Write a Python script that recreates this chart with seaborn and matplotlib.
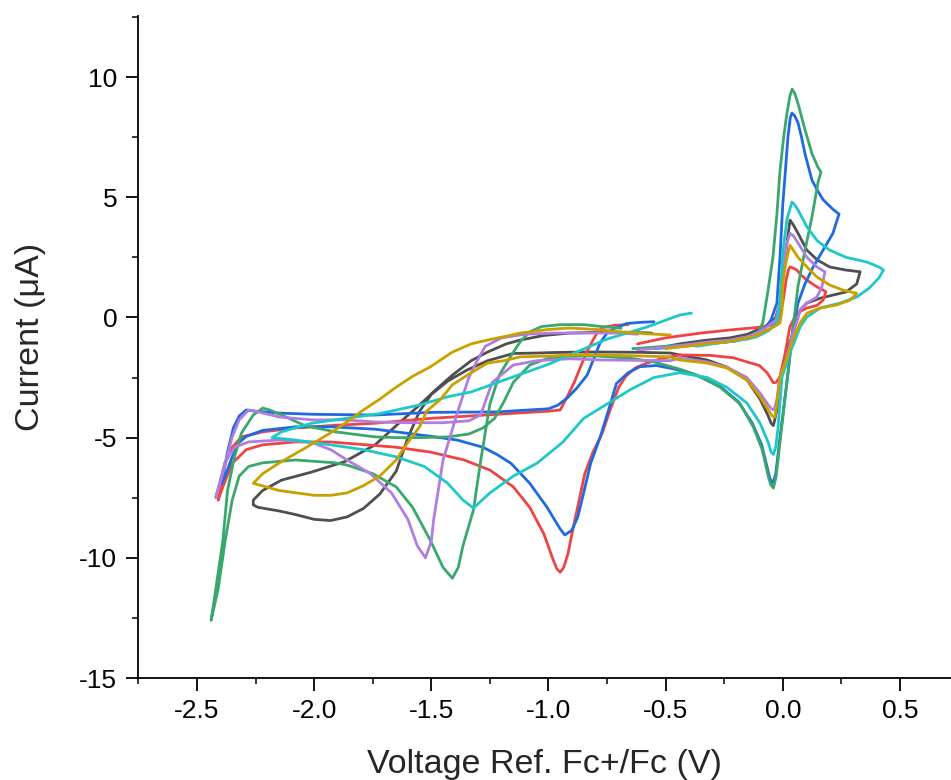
import pandas as pd
import matplotlib
matplotlib.use("Agg")
import matplotlib.pyplot as plt
import matplotlib.ticker as mticker
import seaborn as sns

# ============================================================
# DATA - cyclic voltammograms (V vs Fc+/Fc, uA)
# ============================================================
black_v = [-0.52, -0.44, -0.33, -0.225, -0.15, -0.11, -0.06, -0.03, -0.012, 0.0, 0.01, 0.018, 0.031, 0.045,
           0.065, 0.103, 0.146, 0.2, 0.27, 0.33,
           0.316, 0.27, 0.214, 0.16, 0.103, 0.074, 0.045, 0.015, -0.012, -0.025, -0.04, -0.05, -0.062,
           -0.097, -0.153, -0.24, -0.323, -0.44, -0.48, -0.62, -0.766, -0.865, -0.98, -1.05, -1.15, -1.26,
           -1.35, -1.43, -1.5, -1.55, -1.6, -1.65, -1.72, -1.79, -1.86, -1.93, -2.0, -2.08, -2.15, -2.24, -2.26,
           -2.26, -2.22, -2.14, -2.01, -1.87, -1.74, -1.65, -1.55, -1.48, -1.41, -1.33, -1.26, -1.18, -1.12,
           -1.02, -0.91, -0.77, -0.65, -0.56]
black_i = [-1.25, -1.1, -0.95, -0.85, -0.7, -0.52, -0.3, 0.0, 0.6, 1.7, 2.5, 3.1, 4.05, 3.85,
           3.5, 2.8, 2.4, 2.1, 1.97, 1.9,
           1.4, 1.06, 0.93, 0.8, 0.6, 0.31, -0.6, -1.5, -2.47, -3.85, -4.5, -4.4, -4.1,
           -3.4, -2.6, -2.06, -1.77, -1.56, -1.48, -1.45, -1.44, -1.44, -1.46, -1.48, -1.5, -1.8,
           -2.2, -2.65, -3.2, -3.9, -5.0, -6.4, -7.35, -7.95, -8.3, -8.45, -8.4, -8.2, -8.05, -7.9, -7.8,
           -7.6, -7.2, -6.77, -6.43, -6.0, -5.3, -4.5, -3.64, -3.0, -2.4, -1.8, -1.44, -1.1, -0.94,
           -0.75, -0.65, -0.62, -0.62, -0.65]

red_v = [-0.62, -0.5, -0.35, -0.225, -0.11, -0.05, -0.02, 0.0, 0.015, 0.025, 0.031, 0.045, 0.06, 0.08,
         0.103, 0.146, 0.172, 0.184,
         0.172, 0.146, 0.103, 0.06, 0.03, 0.01, -0.012, -0.028, -0.04, -0.067, -0.1, -0.153, -0.21,
         -0.31, -0.44, -0.52, -0.58, -0.63, -0.67, -0.7, -0.737, -0.77, -0.81, -0.845, -0.878, -0.9,
         -0.916, -0.935, -0.95, -0.965, -0.985, -1.02, -1.08, -1.15, -1.25, -1.36, -1.505, -1.65, -1.93,
         -2.08, -2.22, -2.29, -2.35, -2.39, -2.41,
         -2.38, -2.35, -2.31, -2.22, -2.08, -1.93, -1.74, -1.505, -1.22, -1.0, -0.95, -0.92, -0.89,
         -0.865, -0.84, -0.81, -0.79, -0.77, -0.72, -0.66]
red_i = [-1.1, -0.85, -0.65, -0.52, -0.42, -0.32, -0.2, 0.6, 1.6, 2.0, 2.1, 2.05, 1.97, 1.75,
         1.55, 1.27, 1.14, 1.06,
         0.72, 0.5, 0.39, 0.18, -0.4, -1.5, -2.47, -2.7, -2.72, -2.3, -2.0, -1.85, -1.68,
         -1.58, -1.56, -1.72, -1.9, -2.1, -2.45, -2.9, -3.85, -4.8, -5.6, -6.5, -8.0, -9.0,
         -9.8, -10.4, -10.6, -10.45, -9.95, -9.0, -7.9, -7.05, -6.35, -5.93, -5.6, -5.4, -5.18,
         -5.18, -5.3, -5.5, -6.07, -7.05, -7.6,
         -6.07, -5.4, -4.97, -4.76, -4.6, -4.5, -4.4, -4.2, -4.03, -3.9, -3.85, -3.3, -2.7,
         -2.1, -1.5, -0.94, -0.6, -0.42, -0.33, -0.3]

blue_v = [-0.55, -0.42, -0.3, -0.2, -0.13, -0.08, -0.05, -0.025, -0.012, 0.0, 0.012, 0.022, 0.032, 0.039,
          0.05, 0.065, 0.08, 0.095, 0.125, 0.15, 0.172, 0.214, 0.24,
          0.214, 0.172, 0.13, 0.095, 0.065, 0.044, 0.02, -0.012, -0.03, -0.042, -0.055, -0.065, -0.09,
          -0.13, -0.19, -0.27, -0.37, -0.46, -0.54, -0.61, -0.66, -0.71, -0.745, -0.78, -0.82, -0.85,
          -0.875, -0.9, -0.93, -0.95, -0.975, -1.006, -1.08, -1.16, -1.22, -1.28, -1.39, -1.5, -1.65,
          -1.74, -1.93, -2.08, -2.22, -2.29, -2.32, -2.35, -2.38, -2.395,
          -2.37, -2.345, -2.32, -2.29, -2.25, -2.15, -2.0, -1.74, -1.505, -1.22, -1.0, -0.96, -0.92,
          -0.88, -0.835, -0.81, -0.78, -0.75, -0.72, -0.665, -0.6, -0.55]
blue_i = [-1.3, -1.2, -1.08, -0.98, -0.8, -0.5, -0.1, 0.6, 2.5, 4.7, 6.2, 7.5, 8.3, 8.5,
          8.4, 8.1, 7.5, 6.8, 5.7, 5.25, 4.9, 4.5, 4.3,
          3.5, 2.8, 2.1, 1.4, 0.6, -0.4, -2.5, -5.0, -6.5, -6.9, -6.7, -6.3, -5.3,
          -4.4, -3.5, -2.85, -2.4, -2.15, -2.0, -2.05, -2.3, -2.75, -3.9, -5.0, -6.07, -7.3,
          -8.3, -8.85, -9.05, -8.8, -8.4, -7.9, -6.9, -6.07, -5.7, -5.4, -5.1, -4.95, -4.76,
          -4.65, -4.55, -4.55, -4.7, -4.95, -5.2, -5.8, -6.6, -6.9,
          -5.6, -4.6, -4.1, -3.85, -3.9, -3.98, -4.03, -4.06, -3.95, -3.93, -3.8, -3.65, -3.35,
          -2.95, -2.4, -1.8, -1.06, -0.65, -0.46, -0.25, -0.2, -0.18]

green_v = [-0.64, -0.5, -0.35, -0.22, -0.14, -0.1, -0.085, -0.065, -0.042, -0.025, -0.012, 0.005, 0.018,
           0.03, 0.04, 0.052, 0.065, 0.095, 0.125, 0.15, 0.163,
           0.15, 0.125, 0.095, 0.065, 0.044, 0.02, -0.012, -0.028, -0.04, -0.052, -0.062, -0.088, -0.126,
           -0.182, -0.268, -0.366, -0.44, -0.55, -0.65, -0.8, -0.92, -1.0, -1.08, -1.15, -1.19, -1.23,
           -1.28, -1.34, -1.43, -1.55, -1.65, -1.74, -1.91, -2.04, -2.13, -2.19, -2.22, -2.26, -2.31,
           -2.34, -2.37, -2.39, -2.42, -2.44,
           -2.41, -2.38, -2.35, -2.32, -2.28, -2.22, -2.08, -1.91, -1.86, -1.75, -1.65, -1.58, -1.505,
           -1.45, -1.41, -1.385, -1.365, -1.32, -1.29, -1.27, -1.25, -1.21, -1.16, -1.12, -1.08, -1.03,
           -0.95, -0.85, -0.77, -0.69]
green_i = [-1.3, -1.2, -1.1, -1.0, -0.8, -0.55, -0.2, 1.0, 2.5, 4.3, 6.1, 7.6, 8.5,
           9.2, 9.5, 9.3, 8.9, 7.8, 6.8, 6.25, 6.05,
           5.6, 4.2, 2.8, 1.3, -0.4, -2.5, -5.2, -6.6, -7.1, -6.95, -6.6, -5.5, -4.55,
           -3.6, -2.9, -2.4, -2.15, -1.85, -1.7, -1.6, -1.62, -1.69, -1.98, -2.7, -3.5, -4.2,
           -4.6, -4.85, -4.97, -5.0, -5.0, -4.97, -4.76, -4.5, -4.1, -3.85, -3.77, -4.06, -4.8,
           -5.8, -7.2, -9.3, -11.3, -12.6,
           -11.3, -9.3, -7.6, -6.6, -6.2, -6.05, -5.93, -6.05, -6.14, -6.5, -7.05, -7.9, -9.26,
           -10.4, -10.85, -10.4, -9.5, -8.0, -6.0, -4.8, -3.6, -2.4, -1.6, -1.0, -0.6, -0.38,
           -0.3, -0.3, -0.38, -0.45]

purple_v = [-0.62, -0.5, -0.4, -0.3, -0.225, -0.15, -0.1, -0.06, -0.03, -0.012, 0.0, 0.018, 0.031, 0.045,
            0.065, 0.103, 0.146, 0.18,
            0.167, 0.146, 0.103, 0.074, 0.04, 0.01, -0.012, -0.025, -0.037, -0.048, -0.062, -0.097,
            -0.153, -0.24, -0.323, -0.44, -0.48, -0.766, -0.91, -1.05, -1.15, -1.24, -1.29, -1.34, -1.45,
            -1.6, -1.74, -1.87, -2.01, -2.15, -2.23, -2.28, -2.32, -2.35, -2.39, -2.42,
            -2.38, -2.34, -2.28, -2.15, -2.01, -1.93, -1.86, -1.76, -1.67, -1.6, -1.56, -1.525, -1.5,
            -1.49, -1.45, -1.39, -1.34, -1.31, -1.27, -1.2, -1.1, -0.98, -0.8, -0.69, -0.62]
purple_i = [-1.35, -1.25, -1.12, -1.0, -0.94, -0.8, -0.6, -0.35, -0.1, 0.6, 1.97, 3.1, 3.5, 3.4,
            3.1, 2.5, 2.1, 1.9,
            1.27, 0.85, 0.6, 0.31, -0.8, -1.9, -2.47, -3.4, -3.85, -3.8, -3.64, -3.15,
            -2.5, -2.06, -1.85, -1.69, -1.8, -1.77, -1.72, -1.8, -1.98, -2.7, -4.06, -4.3, -4.38,
            -4.38, -4.35, -4.26, -4.26, -4.14, -3.95, -3.85, -4.26, -4.97, -6.47, -7.5,
            -6.0, -5.4, -5.18, -5.1, -5.2, -5.5, -5.93, -6.5, -7.3, -8.4, -9.5, -10.0, -9.3,
            -8.4, -5.93, -4.0, -2.5, -1.9, -1.2, -0.85, -0.7, -0.65, -0.65, -0.65, -0.7]

cyan_v = [-0.37, -0.3, -0.225, -0.15, -0.11, -0.06, -0.025, -0.012, 0.0, 0.018, 0.039, 0.05, 0.065,
          0.103, 0.146, 0.2, 0.27, 0.36, 0.41, 0.43,
          0.41, 0.37, 0.316, 0.245, 0.16, 0.103, 0.074, 0.03, -0.003, -0.02, -0.03, -0.04, -0.05,
          -0.062, -0.097, -0.153, -0.24, -0.323, -0.44, -0.55, -0.65, -0.75, -0.85, -0.94, -1.05,
          -1.15, -1.25, -1.32, -1.365, -1.43, -1.53, -1.65, -1.79, -1.93, -2.08, -2.18,
          -2.14, -2.01, -1.72, -1.55, -1.43, -1.33, -1.15, -1.0, -0.89, -0.75, -0.58, -0.44, -0.39]
cyan_i = [-1.2, -1.1, -1.0, -0.9, -0.8, -0.55, -0.23, 0.6, 2.7, 4.1, 4.8, 4.7, 4.47,
          3.77, 3.2, 2.8, 2.5, 2.3, 2.1, 1.97,
          1.64, 1.23, 0.85, 0.6, 0.39, 0.02, -0.4, -1.5, -2.47, -4.55, -5.4, -5.7, -5.6,
          -5.2, -4.4, -3.56, -2.9, -2.5, -2.3, -2.5, -3.0, -3.6, -4.2, -5.2, -6.07,
          -6.6, -7.3, -7.93, -7.6, -6.9, -6.2, -5.8, -5.5, -5.3, -5.1, -5.0,
          -4.76, -4.4, -4.0, -3.64, -3.3, -3.1, -2.47, -1.95, -1.48, -0.9, -0.4, 0.1, 0.18]

gold_v = [-0.5, -0.44, -0.33, -0.225, -0.15, -0.11, -0.06, -0.03, -0.012, -0.003, 0.0, 0.01, 0.018,
          0.031, 0.045, 0.065, 0.103, 0.146, 0.2, 0.256, 0.316,
          0.287, 0.23, 0.16, 0.103, 0.074, 0.04, 0.01, -0.012, -0.025, -0.033, -0.045, -0.062, -0.097,
          -0.153, -0.24, -0.323, -0.44, -0.48, -0.766, -0.91, -0.98, -1.12, -1.19, -1.26, -1.33, -1.41,
          -1.46, -1.52, -1.55, -1.6, -1.65, -1.72, -1.79, -1.86, -1.93, -2.0, -2.15, -2.26,
          -2.22, -2.14, -2.05, -1.93, -1.86, -1.79, -1.72, -1.65, -1.58, -1.505, -1.41, -1.33, -1.26,
          -1.19, -1.12, -1.0, -0.91, -0.8, -0.69, -0.58, -0.48]
gold_i = [-1.3, -1.23, -1.1, -1.0, -0.85, -0.73, -0.5, -0.35, -0.23, 0.31, 1.4, 2.1, 2.5,
          3.0, 2.8, 2.5, 2.1, 1.68, 1.35, 1.14, 1.0,
          0.72, 0.52, 0.39, 0.18, -0.23, -1.0, -1.9, -2.47, -3.56, -4.14, -4.1, -3.85, -3.3,
          -2.6, -2.1, -1.9, -1.77, -1.64, -1.56, -1.56, -1.6, -1.64, -1.8, -1.9, -2.3, -2.8,
          -3.4, -3.9, -4.55, -5.2, -5.93, -6.6, -7.0, -7.3, -7.4, -7.4, -7.2, -6.9,
          -6.5, -6.0, -5.5, -4.8, -4.35, -3.85, -3.4, -2.9, -2.45, -2.06, -1.44, -1.1, -0.94,
          -0.8, -0.65, -0.5, -0.44, -0.5, -0.6, -0.68, -0.73]

curve_names = ["black", "red", "blue", "green", "purple", "cyan", "gold"]
curve_data = [(black_v, black_i), (red_v, red_i), (blue_v, blue_i), (green_v, green_i),
              (purple_v, purple_i), (cyan_v, cyan_i), (gold_v, gold_i)]
curve_colors = {"black": "#4f4f4f", "red": "#f04444", "blue": "#1f6ae0", "green": "#3aa86c",
                "purple": "#b07de0", "cyan": "#1ec8c8", "gold": "#c9a000"}

frames = []
for name, (v, i) in zip(curve_names, curve_data):
    frames.append(pd.DataFrame({"V": v, "I": i, "curve": name, "step": range(len(v))}))
df = pd.concat(frames, ignore_index=True)

# ============================================================
# PLOT
# ============================================================
sns.set_style("ticks")
plt.rcParams["font.family"] = ["Liberation Sans", "DejaVu Sans"]
plt.rcParams["axes.unicode_minus"] = False

fig = plt.figure(figsize=(9.51, 7.8), dpi=100)
ax = fig.add_axes([138 / 951, 1 - 678 / 780, 1 - 138 / 951, (678 - 16) / 780])

sns.lineplot(data=df, x="V", y="I", hue="curve", hue_order=curve_names, palette=curve_colors,
             sort=False, estimator=None, linewidth=2.0, legend=False, ax=ax)

ax.set_xlim(-2.752, 0.718)
ax.set_ylim(-15, 12.54)
ax.xaxis.set_major_locator(mticker.MultipleLocator(0.5))
ax.xaxis.set_minor_locator(mticker.MultipleLocator(0.25))
ax.yaxis.set_major_locator(mticker.MultipleLocator(5))
ax.yaxis.set_minor_locator(mticker.MultipleLocator(2.5))
ax.xaxis.set_major_formatter(mticker.FormatStrFormatter("%.1f"))
ax.yaxis.set_major_formatter(mticker.FormatStrFormatter("%d"))

for side in ["top", "right"]:
    ax.spines[side].set_visible(False)
for side in ["left", "bottom"]:
    ax.spines[side].set_linewidth(1.3)
    ax.spines[side].set_color("black")

ax.tick_params(which="major", direction="out", length=9, width=1.3, labelsize=19, pad=6, colors="black")
ax.tick_params(which="minor", direction="out", length=4.5, width=1.3)

ax.set_xlabel("Voltage Ref. Fc+/Fc (V)", fontsize=24.5, labelpad=19)
ax.set_ylabel("Current (μA)", fontsize=24.5)
ax.yaxis.set_label_coords(-0.113, 0.515)

fig.savefig("out.png", dpi=100)
